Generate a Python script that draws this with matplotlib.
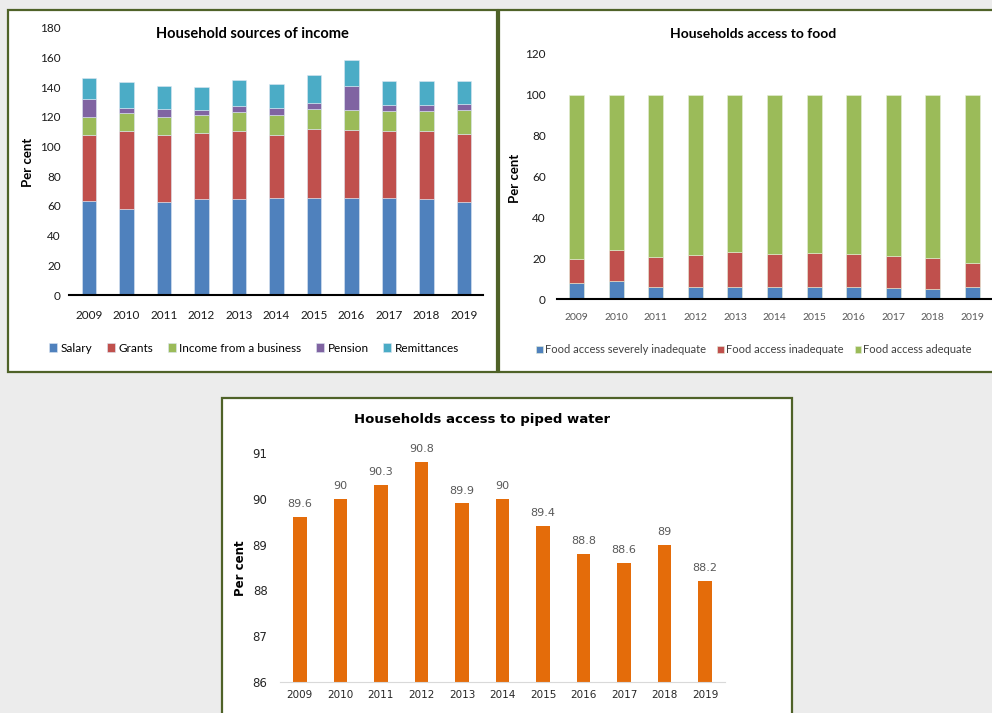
import matplotlib.pyplot as plt
from matplotlib.patches import Rectangle
import numpy as np

W, H = 992, 713

years = ['2009', '2010', '2011', '2012', '2013', '2014', '2015', '2016', '2017', '2018', '2019']

# household sources of income (per cent, multiple sources allowed)
salary = [63.5, 58.1, 63.0, 64.9, 64.6, 65.5, 65.5, 65.5, 65.5, 64.9, 62.4]
grants = [44.1, 52.7, 44.6, 44.1, 45.8, 42.6, 46.4, 45.8, 44.9, 45.5, 46.2]
business = [12.4, 11.9, 12.4, 12.6, 12.8, 13.5, 13.3, 13.5, 13.9, 13.5, 16.2]
pension = [12.2, 3.2, 5.5, 3.4, 4.3, 4.3, 4.5, 16.4, 3.6, 4.0, 3.8]
remittances = [14.4, 17.6, 15.7, 15.0, 17.5, 16.2, 18.5, 16.9, 16.7, 16.7, 16.0]

# household access to food
severe = [8.0, 9.0, 6.0, 6.0, 5.7, 5.7, 5.7, 5.7, 5.2, 4.9, 6.0]
inadequate = [11.6, 15.0, 14.8, 15.6, 17.5, 16.5, 17.0, 16.5, 16.0, 15.0, 11.6]
adequate = [80.4, 76.0, 78.9, 78.4, 76.8, 77.8, 77.3, 77.8, 78.8, 80.1, 82.4]

# household access to piped water
water = [89.6, 90.0, 90.3, 90.8, 89.9, 90.0, 89.4, 88.8, 88.6, 89.0, 88.2]
water_labels = ['89.6', '90', '90.3', '90.8', '89.9', '90', '89.4', '88.8', '88.6', '89', '88.2']

fig = plt.figure(figsize=(W / 100, H / 100), dpi=100, facecolor='#ececec')


def px_axes(x0, y0, x1, y1):
    # axes from pixel box (top-left origin)
    return fig.add_axes([x0 / W, 1 - y1 / H, (x1 - x0) / W, (y1 - y0) / H])


def panel(x0, y0, x1, y1):
    fig.patches.append(Rectangle((x0 / W, 1 - y1 / H), (x1 - x0) / W, (y1 - y0) / H,
                                 transform=fig.transFigure, facecolor='white',
                                 edgecolor='#4f6228', linewidth=1.6, zorder=-1))


def fig_text(x, y, s, **kw):
    fig.text(x / W, 1 - y / H, s, **kw)


panel(8, 10, 497, 372)
panel(499, 10, 1010, 372)
panel(222, 398, 792, 730)

x = np.arange(len(years))
sans = ['Lato', 'DejaVu Sans']

# ---- sources of income ----
ax1 = px_axes(69, 28, 483, 295)
bottom = np.zeros(len(years))
series1 = [(salary, 'Salary', '#4f81bd'), (grants, 'Grants', '#c0504d'),
           (business, 'Income from a business', '#9bbb59'),
           (pension, 'Pension', '#8064a2'), (remittances, 'Remittances', '#4bacc6')]
for vals, name, col in series1:
    ax1.bar(x, vals, 0.39, bottom=bottom, color=col, label=name,
            edgecolor='#dce6f2', linewidth=0.4)
    bottom += np.array(vals)
ax1.set_ylim(0, 180)
ax1.set_xlim(-0.53, 10.51)
ax1.set_yticks(range(0, 181, 20))
ax1.set_xticks(x)
ax1.set_xticklabels(years)
ax1.tick_params(length=0, labelsize=8.5, colors='#1a1a1a', pad=6)
ax1.tick_params(axis='x', pad=11)
for lab in ax1.get_xticklabels() + ax1.get_yticklabels():
    lab.set_family(sans)
for s in ['top', 'right', 'left']:
    ax1.spines[s].set_visible(False)
ax1.spines['bottom'].set_linewidth(1.5)
ax1.set_facecolor('none')
fig_text(252, 34, 'Household sources of income', ha='center', va='center',
         fontsize=10.5, fontweight='bold', family=sans)
fig_text(28, 162, 'Per cent', ha='center', va='center', rotation=90,
         fontsize=9.5, fontweight='bold', family=sans)
ax1.legend(loc='center', bbox_to_anchor=(254 / W, 1 - 348 / H), bbox_transform=fig.transFigure,
           ncol=5, frameon=False, handlelength=0.7, handleheight=0.7, handletextpad=0.3,
           columnspacing=1.2, prop={'family': sans, 'size': 8.5})

# ---- access to food ----
ax2 = px_axes(557, 54, 992, 299)
bottom = np.zeros(len(years))
series2 = [(severe, 'Food access severely inadequate', '#4f81bd'),
           (inadequate, 'Food access inadequate', '#c0504d'),
           (adequate, 'Food access adequate', '#9bbb59')]
for vals, name, col in series2:
    ax2.bar(x, vals, 0.38, bottom=bottom, color=col, label=name,
            edgecolor='#e6eed8', linewidth=0.4)
    bottom += np.array(vals)
ax2.set_ylim(0, 120)
ax2.set_xlim(-0.5, 10.5)
ax2.set_yticks(range(0, 121, 20))
ax2.set_xticks(x)
ax2.set_xticklabels(years)
ax2.tick_params(length=0, labelsize=8.5, colors='#1a1a1a', pad=8)
ax2.tick_params(axis='x', labelsize=7.5, colors='#595959', pad=10)
for lab in ax2.get_xticklabels() + ax2.get_yticklabels():
    lab.set_family(sans)
for s in ['top', 'right', 'left']:
    ax2.spines[s].set_visible(False)
ax2.spines['bottom'].set_linewidth(1.5)
ax2.set_facecolor('none')
fig_text(753, 34, 'Households access to food', ha='center', va='center',
         fontsize=10, fontweight='bold', family=sans)
fig_text(515, 178, 'Per cent', ha='center', va='center', rotation=90,
         fontsize=9.5, fontweight='bold', family=sans)
ax2.legend(loc='center', bbox_to_anchor=(754 / W, 1 - 350 / H), bbox_transform=fig.transFigure,
           ncol=3, frameon=False, handlelength=0.6, handleheight=0.6, handletextpad=0.2,
           columnspacing=1.0, prop={'family': sans, 'size': 8}, labelcolor='#404040')

# ---- access to piped water ----
ax3 = px_axes(280, 453, 725, 682)
ax3.bar(x, np.array(water) - 86, 0.33, bottom=86, color='#e46c0a')
for xi, v, t in zip(x, water, water_labels):
    ax3.text(xi, v + 0.17, t, ha='center', va='bottom', fontsize=8, color='#595959')
ax3.set_ylim(86, 91)
ax3.set_xlim(-0.49, 10.49)
ax3.set_xticks(x)
ax3.set_xticklabels(years)
ax3.tick_params(length=0, labelsize=8.5, colors='#262626', pad=9)
ax3.tick_params(axis='x', labelsize=7.5, pad=6)
for s in ['top', 'right', 'left']:
    ax3.spines[s].set_visible(False)
ax3.spines['bottom'].set_color('#d9d9d9')
ax3.set_facecolor('none')
fig_text(482, 420, 'Households access to piped water', ha='center', va='center',
         fontsize=9.5, fontweight='bold')
fig_text(241, 568, 'Per cent', ha='center', va='center', rotation=90,
         fontsize=8.5, fontweight='bold')

fig.savefig('out.png', dpi=100, facecolor=fig.get_facecolor())
